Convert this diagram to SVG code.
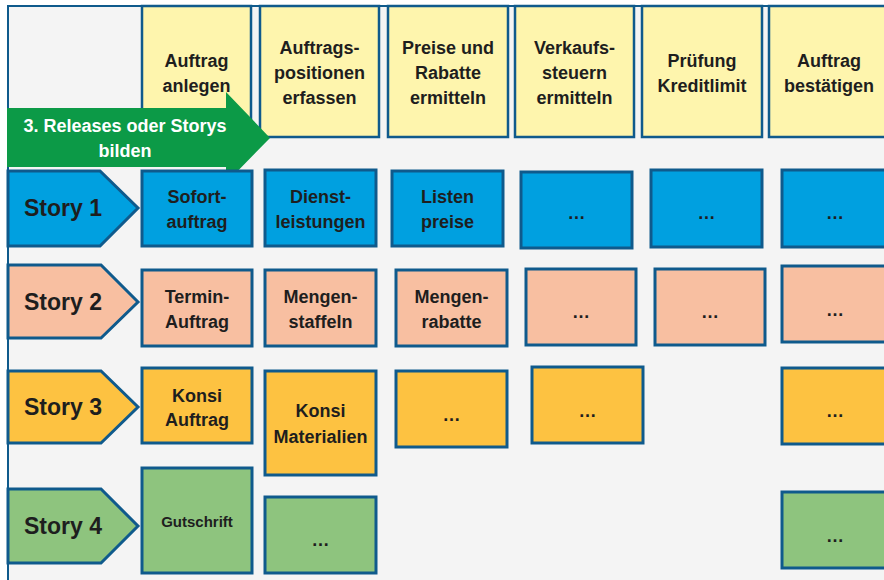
<svg xmlns="http://www.w3.org/2000/svg" width="884" height="580" viewBox="0 0 884 580">
<style>
text{font-family:"Liberation Sans",Arial,sans-serif;font-weight:bold;fill:#1e1e1e;text-anchor:middle}
.h{font-size:18px}
.s{font-size:23px}
.b{stroke:#0f5a8c;stroke-width:3}
.y{fill:#fef5ad;stroke:#0f5a8c;stroke-width:2.5}
.blue{fill:#00a0e0}
.sal{fill:#f8bfa1}
.org{fill:#fdc241}
.grn{fill:#8ec47e}
.w{fill:#ffffff}
</style>
<rect x="0" y="0" width="884" height="580" fill="#ffffff"/>
<rect x="8" y="6" width="880" height="580" fill="#f4f4f4"/>
<g id="frame" fill="none" stroke="#0f5a8c" stroke-width="2">
<line x1="7" y1="6" x2="884" y2="6"/>
<line x1="8" y1="5" x2="8" y2="580"/>
</g>
<g id="h1"><rect class="y" x="142" y="6" width="109" height="131"/><text class="h" x="196.5" y="67">Auftrag</text><text class="h" x="196.5" y="92">anlegen</text></g>
<g id="h2"><rect class="y" x="260" y="6" width="119" height="131"/><text class="h" x="319.5" y="54">Auftrags-</text><text class="h" x="319.5" y="79">positionen</text><text class="h" x="319.5" y="104">erfassen</text></g>
<g id="h3"><rect class="y" x="388" y="6" width="120" height="131"/><text class="h" x="448" y="54">Preise und</text><text class="h" x="448" y="79">Rabatte</text><text class="h" x="448" y="104">ermitteln</text></g>
<g id="h4"><rect class="y" x="515" y="6" width="119" height="131"/><text class="h" x="574.5" y="54">Verkaufs-</text><text class="h" x="574.5" y="79">steuern</text><text class="h" x="574.5" y="104">ermitteln</text></g>
<g id="h5"><rect class="y" x="642" y="6" width="120" height="131"/><text class="h" x="702" y="67">Prüfung</text><text class="h" x="702" y="92">Kreditlimit</text></g>
<g id="h6"><rect class="y" x="769" y="6" width="120" height="131"/><text class="h" x="829" y="67">Auftrag</text><text class="h" x="829" y="92">bestätigen</text></g>
<g id="arrow"><polygon points="7,108 226,108 226,92 270,138 226,183 226,167 7,167" fill="#0c9a47"/><text class="h w" x="125" y="132">3. Releases oder Storys</text><text class="h w" x="125" y="157">bilden</text></g>
<g id="story1"><polygon class="b blue" points="8,171 100,171 138,208 100,246 8,246"/><text class="s" x="63" y="216">Story 1</text></g>
<g id="story2"><polygon class="b sal" points="8,265 101,265 138,302 101,338 8,338"/><text class="s" x="63" y="310">Story 2</text></g>
<g id="story3"><polygon class="b org" points="8,371 101,371 138,407 101,443 8,443"/><text class="s" x="63" y="415">Story 3</text></g>
<g id="story4"><polygon class="b grn" points="8,489 101,489 138,526 101,563 8,563"/><text class="s" x="63" y="534">Story 4</text></g>
<g id="r1c1"><rect class="b blue" x="142" y="171" width="110" height="75"/><text class="h" x="197" y="203">Sofort-</text><text class="h" x="197" y="228">auftrag</text></g>
<g id="r1c2"><rect class="b blue" x="265" y="170" width="111" height="76"/><text class="h" x="320.5" y="203">Dienst-</text><text class="h" x="320.5" y="228">leistungen</text></g>
<g id="r1c3"><rect class="b blue" x="392" y="171" width="111" height="75"/><text class="h" x="447.5" y="203">Listen</text><text class="h" x="447.5" y="228">preise</text></g>
<g id="r1c4"><rect class="b blue" x="521" y="172" width="111" height="76"/><text class="h" x="576.5" y="219">…</text></g>
<g id="r1c5"><rect class="b blue" x="651" y="170" width="111" height="77"/><text class="h" x="706.5" y="219">…</text></g>
<g id="r1c6"><rect class="b blue" x="782" y="170" width="110" height="77"/><text class="h" x="835" y="219">…</text></g>
<g id="r2c1"><rect class="b sal" x="142" y="270" width="110" height="76"/><text class="h" x="197" y="303">Termin-</text><text class="h" x="197" y="328">Auftrag</text></g>
<g id="r2c2"><rect class="b sal" x="265" y="270" width="111" height="76"/><text class="h" x="320.5" y="303">Mengen-</text><text class="h" x="320.5" y="328">staffeln</text></g>
<g id="r2c3"><rect class="b sal" x="396" y="270" width="111" height="76"/><text class="h" x="451.5" y="303">Mengen-</text><text class="h" x="451.5" y="328">rabatte</text></g>
<g id="r2c4"><rect class="b sal" x="526" y="269" width="110" height="76"/><text class="h" x="581" y="318">…</text></g>
<g id="r2c5"><rect class="b sal" x="655" y="269" width="110" height="76"/><text class="h" x="710" y="318">…</text></g>
<g id="r2c6"><rect class="b sal" x="782" y="266" width="110" height="76"/><text class="h" x="835" y="316">…</text></g>
<g id="r3c1"><rect class="b org" x="142" y="368" width="110" height="75"/><text class="h" x="197" y="402">Konsi</text><text class="h" x="197" y="426">Auftrag</text></g>
<g id="r3c2"><rect class="b org" x="265" y="371" width="111" height="104"/><text class="h" x="320.5" y="417">Konsi</text><text class="h" x="320.5" y="443">Materialien</text></g>
<g id="r3c3"><rect class="b org" x="396" y="371" width="111" height="76"/><text class="h" x="451.5" y="421">…</text></g>
<g id="r3c4"><rect class="b org" x="532" y="367" width="111" height="76"/><text class="h" x="587.5" y="417">…</text></g>
<g id="r3c6"><rect class="b org" x="782" y="368" width="110" height="76"/><text class="h" x="835" y="417">…</text></g>
<g id="r4c1"><rect class="b grn" x="142" y="468" width="110" height="105"/><text x="197" y="527" font-size="15">Gutschrift</text></g>
<g id="r4c2"><rect class="b grn" x="265" y="497" width="111" height="76"/><text class="h" x="320.5" y="546">…</text></g>
<g id="r4c6"><rect class="b grn" x="782" y="492" width="110" height="76"/><text class="h" x="835" y="542">…</text></g>
<g id="connectors"></g>
</svg>
